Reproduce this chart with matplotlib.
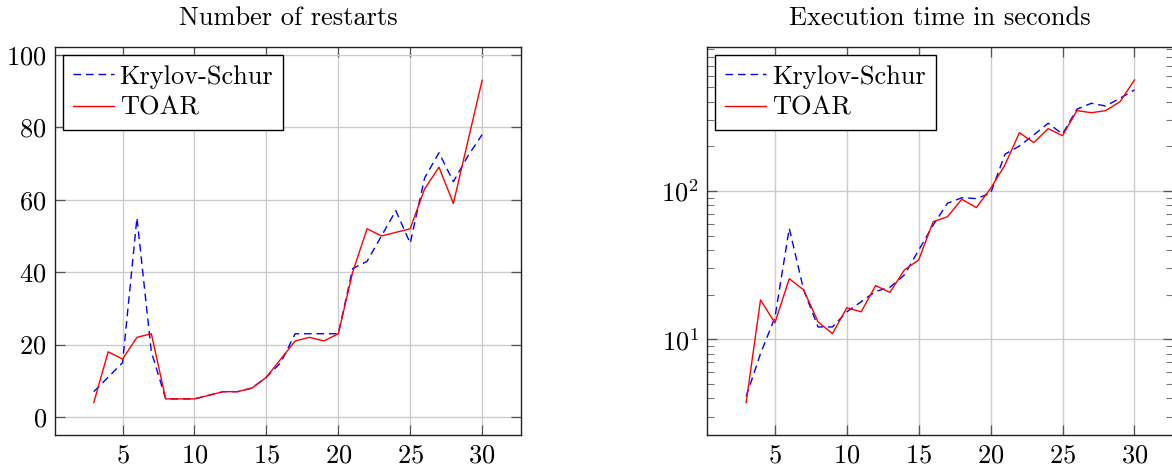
import numpy as np
import matplotlib
matplotlib.use("Agg")
import matplotlib.pyplot as plt
from matplotlib.ticker import LogLocator, NullFormatter

# =========================
# 1. Data
# =========================
n = list(range(3, 31))

restarts_ks = [7, 11, 15, 55, 18, 5, 5, 5, 6, 7, 7, 8, 11, 15, 23, 23, 23, 23,
               41, 43, 50, 57, 48, 66, 73, 65, 72, 78]
restarts_toar = [4, 18, 16, 22, 23, 5, 5, 5, 6, 7, 7, 8, 11, 16, 21, 22, 21, 23,
                 40, 52, 50, 51, 52, 63, 69, 59, 76, 93]

time_ks = [4.1, 8.0, 14.0, 56, 21.5, 12.1, 12.1, 15.3, 17.9, 21, 22.4, 27.1,
           39.9, 58.8, 82.6, 90, 88.8, 96.5, 177, 201, 239, 286, 242, 356,
           390, 374, 422, 480]
time_toar = [3.74, 18.4, 12.9, 25.6, 21.5, 13.1, 10.9, 16.3, 15.3, 23, 20.7,
             29.3, 34.3, 62, 67, 87.9, 77.2, 104, 150, 247, 212, 263, 236,
             348, 337, 348, 400, 560]

titles = ["Number of restarts", "Execution time in seconds"]
labels = ["Krylov-Schur", "TOAR"]

# =========================
# 2. Style
# =========================
plt.rcParams['font.family'] = ['cmr10', 'DejaVu Serif']
plt.rcParams['mathtext.fontset'] = 'cm'
plt.rcParams['axes.formatter.use_mathtext'] = True
plt.rcParams['font.size'] = 19
plt.rcParams['axes.unicode_minus'] = False

fig = plt.figure(figsize=(11.72, 4.69), dpi=100)
ax1 = fig.add_axes([0.0469, 0.0725, 0.3976, 0.8273])
ax2 = fig.add_axes([0.6035, 0.0725, 0.3976, 0.8273])


def style(ax):
    ax.grid(True, color="#cccccc", linewidth=1.0)
    ax.set_axisbelow(True)
    ax.tick_params(which="major", direction="in", length=7, width=0.9,
                   color="#555555", top=True, right=True, pad=6)
    ax.tick_params(which="minor", direction="in", length=5, width=0.8,
                   color="#777777", top=True, right=True)
    for s in ax.spines.values():
        s.set_linewidth(1.0)
        s.set_color("#222222")


for ax, ks, toar, title in [(ax1, restarts_ks, restarts_toar, titles[0]),
                            (ax2, time_ks, time_toar, titles[1])]:
    ax.plot(n, ks, color="blue", linewidth=1.0, dashes=(5.5, 3.5), label=labels[0])
    ax.plot(n, toar, color="red", linewidth=1.0, label=labels[1])
    ax.set_title(title, pad=16, fontsize=19)
    ax.set_xlim(0.3, 32.7)
    ax.set_xticks([5, 10, 15, 20, 25, 30])
    style(ax)
    leg = ax.legend(loc="upper left", fancybox=False, framealpha=1,
                    edgecolor="black", borderaxespad=0.3, handlelength=1.55,
                    handletextpad=0.22, borderpad=0.38, labelspacing=0.28)
    leg.get_frame().set_linewidth(1.0)

ax1.set_ylim(-4.97, 102.2)
ax1.set_yticks([0, 20, 40, 60, 80, 100])

ax2.set_yscale("log")
ax2.set_ylim(2.26, 935)
ax2.yaxis.set_major_locator(LogLocator(base=10, numticks=10))
ax2.yaxis.set_minor_locator(LogLocator(base=10, subs=np.arange(2, 10), numticks=10))
ax2.yaxis.set_minor_formatter(NullFormatter())

fig.savefig("out.png", dpi=100)
